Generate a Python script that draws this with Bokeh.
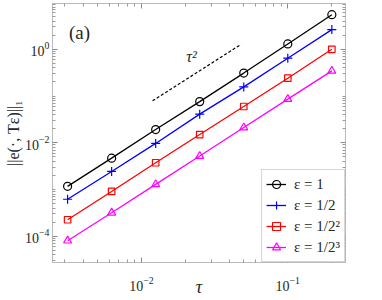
from bokeh.plotting import figure
from bokeh.models import (LogAxis, FixedTicker, Label, Legend, LegendItem,
                          CustomJSTickFormatter, Range1d)
from bokeh.embed import file_html
from bokeh.resources import INLINE

# ---------------- data ----------------
tau = [0.003125, 0.00625, 0.0125, 0.025, 0.05, 0.1, 0.2]
err_eps_1 = [1.17e-3, 4.7e-3, 1.92e-2, 7.6e-2, 0.31, 1.30, 5.5]
err_eps_half = [6.2e-4, 2.44e-3, 9.7e-3, 4.1e-2, 0.157, 0.646, 2.64]
err_eps_quarter = [2.26e-4, 9.1e-4, 3.74e-3, 1.5e-2, 5.97e-2, 0.241, 1.0]
err_eps_eighth = [8.05e-5, 3.19e-4, 1.29e-3, 5.2e-3, 2.12e-2, 8.6e-2, 0.345]
series_labels = ["ε = 1", "ε = 1/2", "ε = 1/2²", "ε = 1/2³"]
ref_tau = [0.0119, 0.048]
ref_vals = [0.079, 1.28]
x_major = [1e-2, 1e-1]
y_major = [1e-4, 1e-2, 1e0]

# ---------------- figure ----------------
x_lo, x_hi = 10 ** -2.6083, 10 ** -0.6056
y_lo, y_hi = 10 ** -4.5604, 10 ** 0.9797

FONT = "'Liberation Serif', serif"

p = figure(x_axis_type="log", y_axis_type="log",
           x_range=Range1d(x_lo, x_hi), y_range=Range1d(y_lo, y_hi),
           frame_width=293, frame_height=259,
           min_border_left=52, min_border_right=30,
           min_border_top=3, min_border_bottom=38,
           output_backend="svg", toolbar_location=None)
p.grid.visible = False
p.outline_line_color = "#bbbbbb"
p.background_fill_color = "white"
p.border_fill_color = "white"

x_minor = [k * 10.0 ** n for n in range(-3, 0) for k in range(1, 10)
           if k * 10.0 ** n not in x_major]
y_minor = [k * 10.0 ** n for n in range(-5, 1) for k in range(1, 10)
           if k * 10.0 ** n not in y_major]


def style(ax):
    ax.axis_line_color = "#bbbbbb"
    ax.major_tick_line_color = "#8a8a8a"
    ax.minor_tick_line_color = "#9a9a9a"
    ax.major_tick_in = 5
    ax.major_tick_out = 0
    ax.minor_tick_in = 3
    ax.minor_tick_out = 0
    ax.major_label_text_font = FONT
    ax.major_label_text_font_size = "14px"
    ax.major_label_text_color = "#262626"


xa = p.xaxis[0]
xa.ticker = FixedTicker(ticks=x_major, minor_ticks=x_minor)
style(xa)
xa.major_label_standoff = 14
xa.axis_label = "τ"
xa.axis_label_text_font = FONT
xa.axis_label_text_font_style = "italic"
xa.axis_label_text_font_size = "18px"
xa.axis_label_text_color = "#262626"
xa.axis_label_standoff = -17

ya = p.yaxis[0]
ya.ticker = FixedTicker(ticks=y_major, minor_ticks=y_minor)
style(ya)
ya.major_label_standoff = 3
ya.axis_label = "||e(·, Tε)||₁"
ya.axis_label_text_font = FONT
ya.axis_label_text_font_style = "normal"
ya.axis_label_text_font_size = "16px"
ya.axis_label_text_color = "#262626"
ya.axis_label_standoff = 0

blank = CustomJSTickFormatter(code="return ''")
top = LogAxis(ticker=FixedTicker(ticks=x_major, minor_ticks=x_minor),
              formatter=blank, major_label_standoff=0)
right = LogAxis(ticker=FixedTicker(ticks=y_major, minor_ticks=y_minor),
                formatter=blank, major_label_standoff=0)
for ax in (top, right):
    style(ax)
    ax.major_label_text_font_size = "1px"
p.add_layout(top, "above")
p.add_layout(right, "right")

# ---------------- series ----------------
series = [err_eps_1, err_eps_half, err_eps_quarter, err_eps_eighth]
colors = ["black", "#0000ff", "#ff0000", "#ff00ff"]
markers = ["circle", "cross", "square", "triangle"]
sizes = [8, 9, 6.5, 8]

items = []
for vals, c, m, s, lab in zip(series, colors, markers, sizes, series_labels):
    ln = p.line(tau, vals, line_color=c, line_width=1.3)
    sc = p.scatter(tau, vals, marker=m, size=s, line_color=c,
                   fill_alpha=0, line_width=1.2)
    items.append(LegendItem(label=lab, renderers=[ln, sc]))

p.line(ref_tau, ref_vals, line_color="black", line_width=1.2,
       line_dash="3 2")

legend = Legend(items=items, location="bottom_right", margin=0, padding=4,
                spacing=1, glyph_width=20, glyph_height=20, label_height=20,
                label_standoff=8, label_text_font=FONT,
                label_text_font_size="15px", label_text_color="#262626",
                border_line_color="#aaaaaa", border_line_width=1,
                background_fill_color="white", background_fill_alpha=1)
p.add_layout(legend)


# ---------------- annotations (positions from the reference pixels) ----------------
def xdata(px):
    return 10 ** (-2 + (px - 141.0) / 146.3)


def ydata(py):
    return 10 ** (-2 - (py - 142.3) / 46.75)


p.add_layout(Label(x=xdata(79), y=ydata(32), text="(a)",
                   text_font=FONT, text_font_size="19px",
                   text_color="#262626", text_align="center",
                   text_baseline="middle"))
p.add_layout(Label(x=xdata(191), y=ydata(56), text="τ²",
                   text_font=FONT, text_font_style="italic",
                   text_font_size="16px", text_color="#262626",
                   text_align="center", text_baseline="middle"))

open("out.html", "w").write(file_html(p, INLINE))
